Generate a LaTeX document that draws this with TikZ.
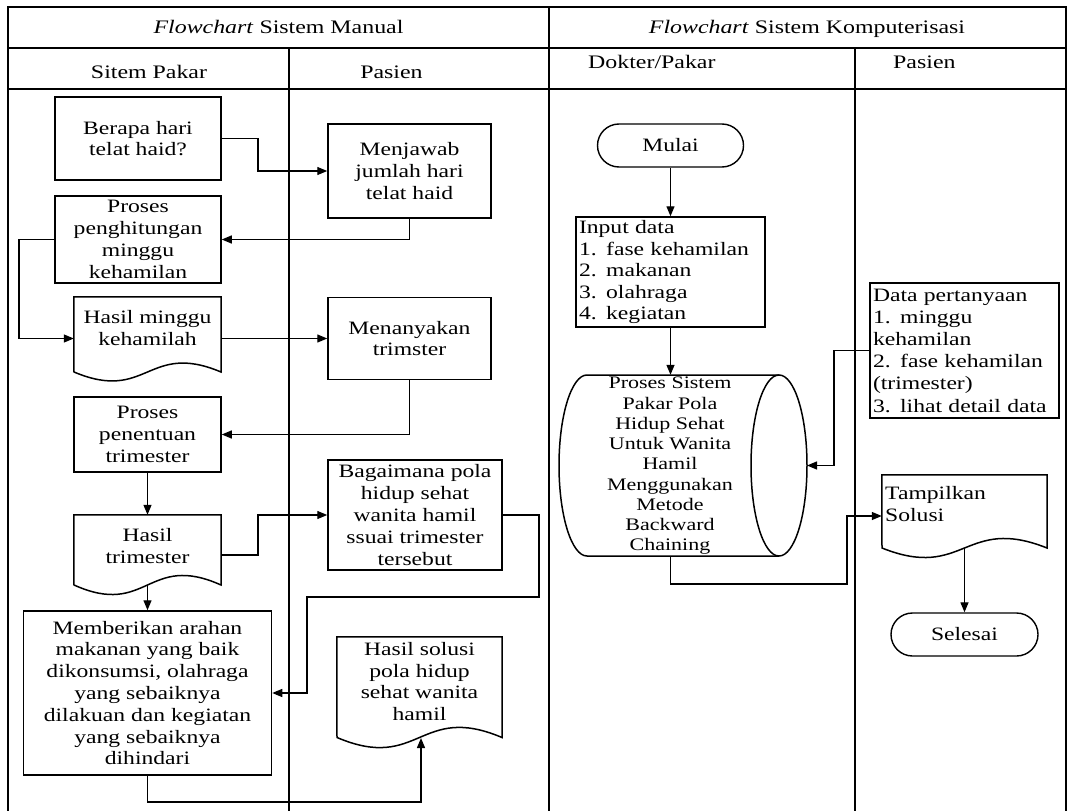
\documentclass[tikz,border=0pt]{standalone}
\usepackage{fontspec}
\setmainfont{Liberation Serif}[FakeStretch=1.25]
\usetikzlibrary{arrows.meta,calc}
\newcommand\bxfont{\fontsize{18.9}{21.8}\selectfont}
\newcommand\hdfont{\fontsize{19.1}{22}\selectfont}
\newcommand\cyfont{\fontsize{17.6}{20.25}\selectfont}
\begin{document}
\begin{tikzpicture}[x=1pt,y=-1pt,
  tline/.style={line width=1.8pt, draw=black},
  boxs/.style={draw=black, line width=1.5pt, rectangle, inner sep=0pt, align=center, font=\bxfont},
  shapeline/.style={draw=black, line width=1.5pt},
  bbox/.style={rectangle, inner sep=0pt, draw=none},
  txt/.style={inner sep=0pt, align=center, font=\bxfont},
  hd/.style={inner sep=0pt, font=\hdfont, anchor=base},
  term/.style={draw=black, line width=1.4pt, rectangle, rounded corners=21.5pt, inner sep=0pt, font=\bxfont},
  conn/.style={line width=1.3pt, draw=black, -{Triangle[length=10pt,width=8pt]}}
]
\useasboundingbox (0,0) rectangle (1072,811);
\fill[white] (0,0) rectangle (1072,811);

% ---------- table ----------
\draw[tline] (8,811) -- (8,7) -- (1066,7) -- (1066,811);
\draw[tline] (8,48) -- (1066,48);
\draw[tline] (8,89) -- (1066,89);
\draw[tline] (549,7) -- (549,811);
\draw[tline] (289,48) -- (289,811);
\draw[tline] (855,48) -- (855,811);

\node[hd] (h1) at (278.5,33) {\textit{Flowchart} Sistem Manual};
\node[hd] (h2) at (807,33) {\textit{Flowchart} Sistem Komputerisasi};
\node[hd] (h3) at (149,78) {Sitem Pakar};
\node[hd] (h4) at (391.5,78) {Pasien};
\node[hd, anchor=base west] (h5) at (588,68) {Dokter/Pakar};
\node[hd, anchor=base west] (h6) at (893,68) {Pasien};

% ---------- manual: sistem pakar lane ----------
\node[boxs, minimum width=166pt, minimum height=83pt] (berapa) at (138,138.5) {Berapa hari\\telat haid?};
\node[boxs, minimum width=166pt, minimum height=87pt] (hitung) at (138,239.5) {Proses\\penghitungan\\minggu\\kehamilan};

\node[bbox, minimum width=147pt, minimum height=83pt] (hminggu) at (147.5,338.5) {};
\draw[shapeline] (hminggu.north west) -- (hminggu.north east) -- (221,372)
  .. controls (147.5,341) and (147.5,403) .. (74,372) -- cycle;
\node[txt] (hminggu-t) at (147.5,328) {Hasil minggu\\kehamilah};

\node[boxs, minimum width=147pt, minimum height=75pt] (penentuan) at (147.5,434.5) {Proses\\penentuan\\trimester};

\node[bbox, minimum width=147pt, minimum height=80pt] (htri) at (147.5,555) {};
\draw[shapeline] (htri.north west) -- (htri.north east) -- (221,585)
  .. controls (147.5,552) and (147.5,618) .. (74,585) -- cycle;
\node[txt] (htri-t) at (147.5,546) {Hasil\\trimester};
\coordinate (htrib) at (147.5,585);

\node[boxs, minimum width=248pt, minimum height=164pt] (memberikan) at (147.5,693) {Memberikan arahan\\makanan yang baik\\dikonsumsi, olahraga\\yang sebaiknya\\dilakuan dan kegiatan\\yang sebaiknya\\dihindari};

% ---------- manual: pasien lane ----------
\node[boxs, minimum width=163pt, minimum height=94pt] (menjawab) at (409.5,171) {Menjawab\\jumlah hari\\telat haid};
\node[boxs, minimum width=163pt, minimum height=82pt] (menanyakan) at (409.5,338.5) {Menanyakan\\trimster};
\node[boxs, minimum width=174pt, minimum height=110pt] (bagaimana) at (415,515) {Bagaimana pola\\hidup sehat\\wanita hamil\\ssuai trimester\\tersebut};

\node[bbox, minimum width=165pt, minimum height=111pt] (hsolusi) at (419.5,692.5) {};
\draw[shapeline] (hsolusi.north west) -- (hsolusi.north east) -- (502,737.5)
  .. controls (419.5,702.5) and (419.5,772.5) .. (337,737.5) -- cycle;
\node[txt] (hsolusi-t) at (419.5,681.5) {Hasil solusi\\pola hidup\\sehat wanita\\hamil};
\coordinate (hsolb) at (421,738);

% ---------- manual connectors ----------
\draw[conn] (berapa.east) -- (258,138.5) |- (menjawab.west);
\draw[conn] (menjawab.south) |- (hitung.east);
\draw[conn] (hitung.west) -- (19,239.5) |- (hminggu.west);
\draw[conn] (hminggu.east) -- (menanyakan.west);
\draw[conn] (menanyakan.south) |- (penentuan.east);
\draw[conn] (penentuan.south) -- (htri.north);
\draw[conn] (htri.east) -- (258,555) |- (bagaimana.west);
\draw[conn] (htrib) -- (memberikan.north);
\draw[conn] (bagaimana.east) -- (539,515) |- (307,597) |- (memberikan.east);
\draw[conn] (memberikan.south) -- (147.5,802) -| (hsolb);

% ---------- komputerisasi ----------
\node[term, minimum width=146pt, minimum height=43pt] (mulai) at (670.5,145.5) {Mulai};
\node[boxs, align=left, text width=183pt, inner xsep=3pt, minimum height=110pt,
      font=\fontsize{18.9}{21.5}\selectfont] (input) at (670.5,272)
  {Input data\\1. fase kehamilan\\2. makanan\\3. olahraga\\4. kegiatan};

\node[bbox, minimum width=192pt, minimum height=181pt] (proses) at (683,465.5) {};
\draw[shapeline] (779,375) -- (587,375) arc[start angle=90, end angle=270, x radius=28pt, y radius=90.5pt] -- (779,556);
\draw[shapeline] (779,465.5) ellipse [x radius=28pt, y radius=90.5pt];
\node[txt, font=\cyfont] (proses-t) at (670,466) {Proses Sistem\\Pakar Pola\\Hidup Sehat\\Untuk Wanita\\Hamil\\Menggunakan\\Metode\\Backward\\Chaining};
\coordinate (prosR) at (807,465.5);

\node[boxs, align=left, text width=183pt, inner xsep=3pt, minimum height=135pt,
      font=\fontsize{18.9}{22.2}\selectfont] (data) at (964.5,350.5)
  {Data pertanyaan\\1. minggu\\kehamilan\\2. fase kehamilan\\(trimester)\\3. lihat detail data};

\node[bbox, minimum width=165pt, minimum height=82pt] (tampil) at (964.5,516) {};
\draw[shapeline] (tampil.north west) -- (tampil.north east) -- (1047,548)
  .. controls (964.5,515) and (964.5,581) .. (882,548) -- cycle;
\node[txt, anchor=west, align=left] (tampil-t) at (885,504) {Tampilkan\\Solusi};
\coordinate (tampb) at (964.5,548);

\node[term, minimum width=147pt, minimum height=43pt] (selesai) at (964.5,634.5) {Selesai};

\draw[conn] (mulai.south) -- (input.north);
\draw[conn] (input.south) -- (input.south |- proses.north);
\draw[conn] (data.west) -- (834,350.5) |- (prosR);
\draw[conn] (input.south |- proses.south) |- (847,584) |- (tampil.west);
\draw[conn] (tampb) -- (selesai.north);
\end{tikzpicture}
\end{document}
